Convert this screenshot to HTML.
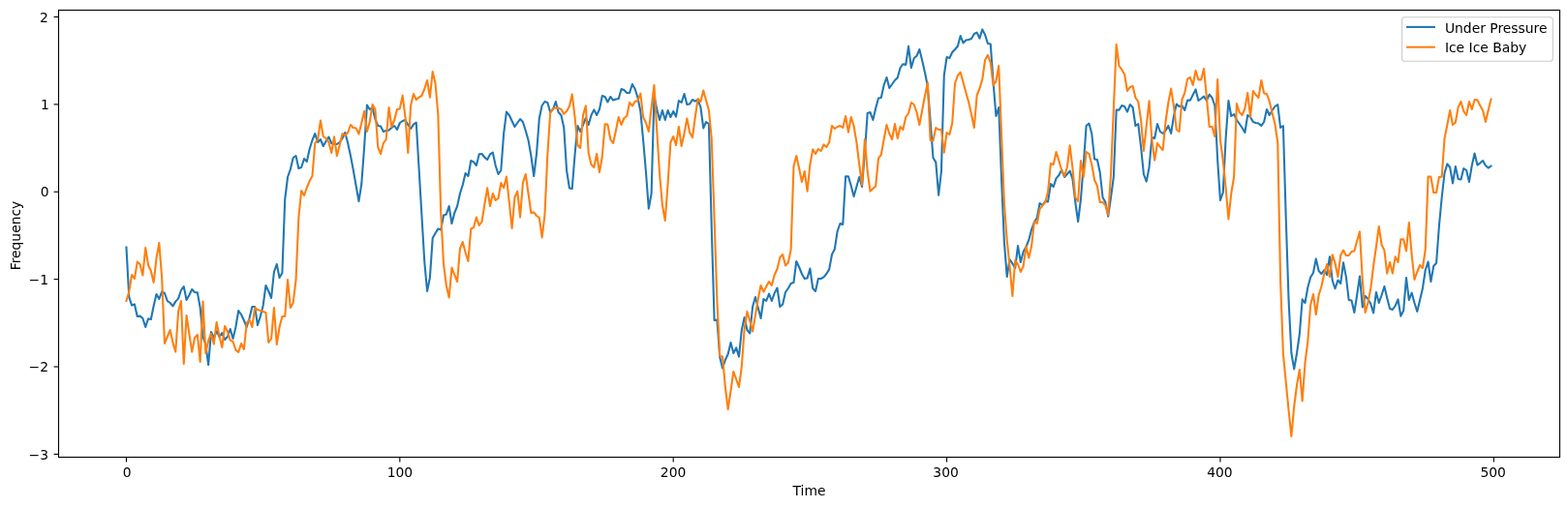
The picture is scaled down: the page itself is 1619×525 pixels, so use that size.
<!DOCTYPE html>
<html><head><meta charset="utf-8"><style>html,body{margin:0;padding:0;background:#fff;overflow:hidden;}svg{display:block;}</style></head>
<body><svg width="1619" height="525" viewBox="0 0 1619 525">
<rect width="1619" height="525" fill="#fff"/>
<defs><clipPath id="c"><rect x="60.5" y="10.5" width="1550" height="462"/></clipPath></defs>
<g clip-path="url(#c)" fill="none" stroke-width="2.08" stroke-linejoin="round" stroke-linecap="square">
<path d="M130.45,255.60 L133.27,307.00 L136.10,315.60 L138.92,314.40 L141.75,327.00 L144.57,326.60 L147.39,329.00 L150.22,338.00 L153.04,329.40 L155.86,330.00 L158.69,316.00 L161.51,304.00 L164.34,309.00 L167.16,301.40 L169.98,303.00 L172.81,311.00 L175.63,313.00 L178.45,316.40 L181.28,311.60 L184.10,308.60 L186.93,300.00 L189.75,296.00 L192.57,310.00 L195.40,305.00 L198.22,299.00 L201.04,302.00 L203.87,302.40 L206.69,318.00 L209.52,348.00 L212.34,356.00 L215.16,377.00 L217.99,343.00 L220.81,349.00 L223.64,342.00 L226.46,348.00 L229.28,344.00 L232.11,351.00 L234.93,348.00 L237.75,340.00 L240.58,350.00 L243.40,338.00 L246.23,321.00 L249.05,325.00 L251.87,331.00 L254.70,338.00 L257.52,329.00 L260.34,317.00 L263.17,317.00 L265.99,336.00 L268.82,327.00 L271.64,316.00 L274.46,295.00 L277.29,301.00 L280.11,308.00 L282.94,281.00 L285.76,273.00 L288.58,287.00 L291.41,282.00 L294.23,206.00 L297.05,183.00 L299.88,175.00 L302.70,163.00 L305.53,161.00 L308.35,174.00 L311.17,173.00 L314.00,164.00 L316.82,167.00 L319.64,154.00 L322.47,145.00 L325.29,138.00 L328.12,147.00 L330.94,144.00 L333.76,151.00 L336.59,146.00 L339.41,141.50 L342.24,148.00 L345.06,149.00 L347.88,149.00 L350.71,147.00 L353.53,143.00 L356.35,137.00 L359.18,148.00 L362.00,161.00 L364.83,176.00 L367.65,192.00 L370.47,208.00 L373.30,190.00 L376.12,152.00 L378.94,108.60 L381.77,113.00 L384.59,111.40 L387.42,123.00 L390.24,130.00 L393.06,130.60 L395.89,136.00 L398.71,135.00 L401.53,134.60 L404.36,132.00 L407.18,130.00 L410.01,134.00 L412.83,127.00 L415.65,125.00 L418.48,124.00 L421.30,129.00 L424.13,133.00 L426.95,128.60 L429.77,126.60 L432.60,174.50 L435.42,222.00 L438.24,270.00 L441.07,301.00 L443.89,287.00 L446.72,246.00 L449.54,241.00 L452.36,236.40 L455.19,237.60 L458.01,222.50 L460.83,221.50 L463.66,213.00 L466.48,231.00 L469.31,220.00 L472.13,213.00 L474.95,200.00 L477.78,191.00 L480.60,179.00 L483.42,182.00 L486.25,166.00 L489.07,167.40 L491.90,171.00 L494.72,159.40 L497.54,159.00 L500.37,162.60 L503.19,165.00 L506.02,159.40 L508.84,157.60 L511.66,171.00 L514.49,180.00 L517.31,176.00 L520.13,138.00 L522.96,115.60 L525.78,119.00 L528.61,125.00 L531.43,131.00 L534.25,127.00 L537.08,123.00 L539.90,126.00 L542.72,135.00 L545.55,145.00 L548.37,161.00 L551.20,182.00 L554.02,159.00 L556.84,122.00 L559.67,109.00 L562.49,105.00 L565.32,106.00 L568.14,116.00 L570.96,113.00 L573.79,105.00 L576.61,116.00 L579.43,119.00 L582.26,132.00 L585.08,176.00 L587.91,194.40 L590.73,195.00 L593.55,160.00 L596.38,130.00 L599.20,136.00 L602.02,129.00 L604.85,122.00 L607.67,129.00 L610.50,119.00 L613.32,113.40 L616.14,119.00 L618.97,113.00 L621.79,99.00 L624.62,100.00 L627.44,105.40 L630.26,100.00 L633.09,103.60 L635.91,102.60 L638.73,102.00 L641.56,92.00 L644.38,93.00 L647.21,96.00 L650.03,96.00 L652.85,87.00 L655.68,92.00 L658.50,101.00 L661.32,115.00 L664.15,145.00 L666.97,178.00 L669.80,215.60 L672.62,200.00 L675.44,99.00 L678.27,113.00 L681.09,124.00 L683.91,114.00 L686.74,124.00 L689.56,114.00 L692.39,121.00 L695.21,115.00 L698.03,120.60 L700.86,104.00 L703.68,106.00 L706.51,97.00 L709.33,108.00 L712.15,107.40 L714.98,103.00 L717.80,104.60 L720.62,103.00 L723.45,111.00 L726.27,132.40 L729.10,126.00 L731.92,128.00 L734.74,235.00 L737.57,331.00 L740.39,330.60 L743.21,369.00 L746.04,380.60 L748.86,372.00 L751.69,366.00 L754.51,354.00 L757.33,365.00 L760.16,359.40 L762.98,368.60 L765.81,341.00 L768.63,328.00 L771.45,341.00 L774.28,344.50 L777.10,317.00 L779.92,307.00 L782.75,318.00 L785.57,329.00 L788.40,309.00 L791.22,311.00 L794.04,303.60 L796.87,311.00 L799.69,303.00 L802.51,297.60 L805.34,317.00 L808.16,314.40 L810.99,302.00 L813.81,298.00 L816.63,293.00 L819.46,292.00 L822.28,270.00 L825.10,276.00 L827.93,283.00 L830.75,288.00 L833.58,287.40 L836.40,277.60 L839.22,298.00 L842.05,301.00 L844.87,288.00 L847.70,288.00 L850.52,286.40 L853.34,283.00 L856.17,278.40 L858.99,263.00 L861.81,257.60 L864.64,239.00 L867.46,231.00 L870.29,232.00 L873.11,182.40 L875.93,182.40 L878.76,192.00 L881.58,203.00 L884.40,193.00 L887.23,183.00 L890.05,193.00 L892.88,158.00 L895.70,117.00 L898.52,116.00 L901.35,124.00 L904.17,112.00 L906.99,101.60 L909.82,101.00 L912.64,88.00 L915.47,80.00 L918.29,91.00 L921.11,87.00 L923.94,83.00 L926.76,80.20 L929.59,70.00 L932.41,66.20 L935.23,67.00 L938.06,47.80 L940.88,70.00 L943.70,60.30 L946.53,57.80 L949.35,51.00 L952.18,62.50 L955.00,75.00 L957.82,89.00 L960.65,125.00 L963.47,163.00 L966.29,167.60 L969.12,201.60 L971.94,177.00 L974.77,78.00 L977.59,59.00 L980.41,60.00 L983.24,54.00 L986.06,51.00 L988.89,47.80 L991.71,37.00 L994.53,44.40 L997.36,41.60 L1000.18,41.00 L1003.00,40.00 L1005.83,35.00 L1008.65,33.60 L1011.48,39.60 L1014.30,30.40 L1017.12,36.00 L1019.95,45.00 L1022.77,45.60 L1025.59,85.00 L1028.42,120.00 L1031.24,111.00 L1034.07,185.00 L1036.89,250.00 L1039.71,286.00 L1042.54,268.00 L1045.36,272.40 L1048.18,277.00 L1051.01,254.00 L1053.83,271.00 L1056.66,260.00 L1059.48,255.00 L1062.30,248.00 L1065.13,237.00 L1067.95,229.50 L1070.78,225.00 L1073.60,210.00 L1076.42,212.00 L1079.25,208.00 L1082.07,208.40 L1084.89,190.00 L1087.72,193.00 L1090.54,184.40 L1093.37,181.00 L1096.19,175.60 L1099.01,183.00 L1101.84,180.00 L1104.66,176.60 L1107.48,185.00 L1110.31,209.00 L1113.13,229.00 L1115.96,206.00 L1118.78,170.00 L1121.60,130.00 L1124.43,127.60 L1127.25,138.00 L1130.08,164.40 L1132.90,165.00 L1135.72,178.00 L1138.55,204.00 L1141.37,209.00 L1144.19,223.60 L1147.02,204.00 L1149.84,183.00 L1152.67,113.50 L1155.49,113.60 L1158.31,109.00 L1161.14,110.00 L1163.96,115.60 L1166.78,108.00 L1169.61,111.00 L1172.43,130.00 L1175.26,128.00 L1178.08,152.00 L1180.90,180.00 L1183.73,187.60 L1186.55,173.00 L1189.38,142.00 L1192.20,143.00 L1195.02,128.00 L1197.85,136.00 L1200.67,138.00 L1203.49,135.00 L1206.32,130.00 L1209.14,138.00 L1211.97,120.00 L1214.79,107.60 L1217.61,110.00 L1220.44,109.00 L1223.26,114.00 L1226.08,103.60 L1228.91,103.60 L1231.73,98.00 L1234.56,92.40 L1237.38,104.00 L1240.20,102.00 L1243.03,99.60 L1245.85,104.00 L1248.67,97.60 L1251.50,101.00 L1254.32,109.00 L1257.15,165.00 L1259.97,207.00 L1262.79,199.00 L1265.62,143.00 L1268.44,104.00 L1271.27,120.00 L1274.09,118.00 L1276.91,124.00 L1279.74,128.00 L1282.56,132.00 L1285.38,137.00 L1288.21,119.00 L1291.03,121.00 L1293.86,126.00 L1296.68,127.00 L1299.50,127.60 L1302.33,130.00 L1305.15,126.00 L1307.97,113.00 L1310.80,119.00 L1313.62,114.00 L1316.45,110.00 L1319.27,108.00 L1322.09,132.00 L1324.92,130.00 L1327.74,225.00 L1330.57,310.00 L1333.39,365.00 L1336.21,381.40 L1339.04,365.00 L1341.86,345.00 L1344.68,309.40 L1347.51,313.00 L1350.33,297.00 L1353.16,286.50 L1355.98,282.00 L1358.80,267.40 L1361.63,280.00 L1364.45,283.00 L1367.27,279.00 L1370.10,284.00 L1372.92,265.40 L1375.75,290.00 L1378.57,298.30 L1381.39,289.50 L1384.22,293.00 L1387.04,271.40 L1389.86,286.00 L1392.69,310.00 L1395.51,310.60 L1398.34,323.00 L1401.16,305.00 L1403.98,285.50 L1406.81,317.40 L1409.63,306.00 L1412.46,309.00 L1415.28,314.00 L1418.10,323.40 L1420.93,302.00 L1423.75,313.00 L1426.57,305.00 L1429.40,296.00 L1432.22,308.00 L1435.05,319.00 L1437.87,320.00 L1440.69,316.00 L1443.52,309.40 L1446.34,326.60 L1449.16,321.00 L1451.99,287.00 L1454.81,310.00 L1457.64,302.60 L1460.46,313.00 L1463.28,322.00 L1466.11,310.00 L1468.93,298.00 L1471.75,279.00 L1474.58,270.60 L1477.40,291.00 L1480.23,275.00 L1483.05,272.00 L1485.87,234.00 L1488.70,204.00 L1491.52,179.00 L1494.35,169.40 L1497.17,173.00 L1499.99,189.40 L1502.82,172.00 L1505.64,185.00 L1508.46,185.40 L1511.29,174.00 L1514.11,176.00 L1516.94,188.00 L1519.76,171.00 L1522.58,158.60 L1525.41,170.60 L1528.23,168.60 L1531.05,166.00 L1533.88,171.00 L1536.70,173.60 L1539.53,171.60" stroke="#1f77b4"/>
<path d="M130.45,311.00 L133.27,301.50 L136.10,284.00 L138.92,288.00 L141.75,270.60 L144.57,273.00 L147.39,284.60 L150.22,256.00 L153.04,274.00 L155.86,280.00 L158.69,292.00 L161.51,267.00 L164.34,251.00 L167.16,287.00 L169.98,355.00 L172.81,348.00 L175.63,341.00 L178.45,354.00 L181.28,363.60 L184.10,322.00 L186.93,311.00 L189.75,376.00 L192.57,326.00 L195.40,345.00 L198.22,363.60 L201.04,349.00 L203.87,346.00 L206.69,374.00 L209.52,311.60 L212.34,365.00 L215.16,352.00 L217.99,345.00 L220.81,355.60 L223.64,333.00 L226.46,347.00 L229.28,359.00 L232.11,337.00 L234.93,342.40 L237.75,351.60 L240.58,353.00 L243.40,361.60 L246.23,364.00 L249.05,355.00 L251.87,361.00 L254.70,334.00 L257.52,330.40 L260.34,338.00 L263.17,318.00 L265.99,320.00 L268.82,321.00 L271.64,322.00 L274.46,323.00 L277.29,354.00 L280.11,350.00 L282.94,318.00 L285.76,356.00 L288.58,338.00 L291.41,327.00 L294.23,327.00 L297.05,289.00 L299.88,318.00 L302.70,313.00 L305.53,289.50 L308.35,225.00 L311.17,197.00 L314.00,202.00 L316.82,194.00 L319.64,187.00 L322.47,182.00 L325.29,148.00 L328.12,144.00 L330.94,124.60 L333.76,141.00 L336.59,143.00 L339.41,147.00 L342.24,158.00 L345.06,141.40 L347.88,161.00 L350.71,150.00 L353.53,138.00 L356.35,140.00 L359.18,137.00 L362.00,129.00 L364.83,132.00 L367.65,132.60 L370.47,138.60 L373.30,127.00 L376.12,115.00 L378.94,136.00 L381.77,126.00 L384.59,108.00 L387.42,113.00 L390.24,152.00 L393.06,159.00 L395.89,148.00 L398.71,144.00 L401.53,111.00 L404.36,131.00 L407.18,124.00 L410.01,113.00 L412.83,112.40 L415.65,98.60 L418.48,121.00 L421.30,158.00 L424.13,109.00 L426.95,97.00 L429.77,103.00 L432.60,100.60 L435.42,99.00 L438.24,92.00 L441.07,83.00 L443.89,100.60 L446.72,74.00 L449.54,86.00 L452.36,119.00 L455.19,219.00 L458.01,273.00 L460.83,295.00 L463.66,307.40 L466.48,276.60 L469.31,284.00 L472.13,291.00 L474.95,257.00 L477.78,250.00 L480.60,261.00 L483.42,270.00 L486.25,236.60 L489.07,235.00 L491.90,224.60 L494.72,233.00 L497.54,229.00 L500.37,211.00 L503.19,194.40 L506.02,213.00 L508.84,200.00 L511.66,207.00 L514.49,205.00 L517.31,189.00 L520.13,194.00 L522.96,182.60 L525.78,209.00 L528.61,236.00 L531.43,204.00 L534.25,197.60 L537.08,224.40 L539.90,189.00 L542.72,180.00 L545.55,200.00 L548.37,220.00 L551.20,219.40 L554.02,223.00 L556.84,225.00 L559.67,245.40 L562.49,222.00 L565.32,160.00 L568.14,117.00 L570.96,112.00 L573.79,111.40 L576.61,111.60 L579.43,113.00 L582.26,117.60 L585.08,115.00 L587.91,110.00 L590.73,97.40 L593.55,121.00 L596.38,150.00 L599.20,153.00 L602.02,119.00 L604.85,109.40 L607.67,158.00 L610.50,170.00 L613.32,173.00 L616.14,159.00 L618.97,178.00 L621.79,162.00 L624.62,128.40 L627.44,128.60 L630.26,144.00 L633.09,148.00 L635.91,135.00 L638.73,121.00 L641.56,129.00 L644.38,122.00 L647.21,120.00 L650.03,106.00 L652.85,109.40 L655.68,105.00 L658.50,104.00 L661.32,96.60 L664.15,121.00 L666.97,127.00 L669.80,136.00 L672.62,111.00 L675.44,88.00 L678.27,135.00 L681.09,180.00 L683.91,212.00 L686.74,228.00 L689.56,190.00 L692.39,147.00 L695.21,141.00 L698.03,150.00 L700.86,131.00 L703.68,151.00 L706.51,138.00 L709.33,122.40 L712.15,137.00 L714.98,142.00 L717.80,121.00 L720.62,102.00 L723.45,105.00 L726.27,93.60 L729.10,104.00 L731.92,114.00 L734.74,143.00 L737.57,225.00 L740.39,310.00 L743.21,368.00 L746.04,368.60 L748.86,400.00 L751.69,423.00 L754.51,404.00 L757.33,384.00 L760.16,392.00 L762.98,400.00 L765.81,379.00 L768.63,340.00 L771.45,322.00 L774.28,331.50 L777.10,342.50 L779.92,326.00 L782.75,309.00 L785.57,295.00 L788.40,301.60 L791.22,296.00 L794.04,291.00 L796.87,295.00 L799.69,284.00 L802.51,278.00 L805.34,266.00 L808.16,263.00 L810.99,274.40 L813.81,271.60 L816.63,258.00 L819.46,172.00 L822.28,161.00 L825.10,174.00 L827.93,188.00 L830.75,177.00 L833.58,197.60 L836.40,170.00 L839.22,154.40 L842.05,159.00 L844.87,154.00 L847.70,156.00 L850.52,149.40 L853.34,152.00 L856.17,147.00 L858.99,130.00 L861.81,133.00 L864.64,131.00 L867.46,130.00 L870.29,132.00 L873.11,120.00 L875.93,136.60 L878.76,121.00 L881.58,130.00 L884.40,147.00 L887.23,170.00 L890.05,191.00 L892.88,144.00 L895.70,177.00 L898.52,197.60 L901.35,195.00 L904.17,192.40 L906.99,163.60 L909.82,160.00 L912.64,144.00 L915.47,129.00 L918.29,138.00 L921.11,144.00 L923.94,128.00 L926.76,143.00 L929.59,131.00 L932.41,134.00 L935.23,121.00 L938.06,117.00 L940.88,106.00 L943.70,108.00 L946.53,116.00 L949.35,129.00 L952.18,114.00 L955.00,99.00 L957.82,85.60 L960.65,145.00 L963.47,145.50 L966.29,132.00 L969.12,134.00 L971.94,134.00 L974.77,157.60 L977.59,137.00 L980.41,139.00 L983.24,127.00 L986.06,86.00 L988.89,78.00 L991.71,74.70 L994.53,85.00 L997.36,95.50 L1000.18,105.50 L1003.00,118.00 L1005.83,132.00 L1008.65,98.50 L1011.48,91.50 L1014.30,82.00 L1017.12,62.00 L1019.95,56.80 L1022.77,65.00 L1025.59,88.50 L1028.42,84.00 L1031.24,68.00 L1034.07,140.00 L1036.89,210.00 L1039.71,248.00 L1042.54,275.00 L1045.36,306.00 L1048.18,269.00 L1051.01,273.00 L1053.83,281.00 L1056.66,275.00 L1059.48,254.40 L1062.30,266.40 L1065.13,254.00 L1067.95,229.00 L1070.78,231.00 L1073.60,216.00 L1076.42,212.40 L1079.25,209.00 L1082.07,198.00 L1084.89,169.00 L1087.72,170.00 L1090.54,157.00 L1093.37,166.00 L1096.19,176.00 L1099.01,182.00 L1101.84,173.00 L1104.66,150.40 L1107.48,174.00 L1110.31,204.00 L1113.13,208.00 L1115.96,166.00 L1118.78,183.00 L1121.60,157.00 L1124.43,159.00 L1127.25,170.00 L1130.08,186.00 L1132.90,192.00 L1135.72,209.00 L1138.55,209.00 L1141.37,212.00 L1144.19,222.00 L1147.02,180.00 L1149.84,113.00 L1152.67,46.00 L1155.49,68.00 L1158.31,72.00 L1161.14,77.00 L1163.96,94.00 L1166.78,90.00 L1169.61,89.00 L1172.43,101.00 L1175.26,105.00 L1178.08,124.00 L1180.90,156.00 L1183.73,130.00 L1186.55,104.40 L1189.38,145.00 L1192.20,165.60 L1195.02,148.00 L1197.85,152.00 L1200.67,155.00 L1203.49,126.00 L1206.32,106.00 L1209.14,91.60 L1211.97,110.00 L1214.79,134.00 L1217.61,136.00 L1220.44,103.00 L1223.26,96.00 L1226.08,81.60 L1228.91,80.00 L1231.73,88.00 L1234.56,73.00 L1237.38,82.40 L1240.20,82.40 L1243.03,71.00 L1245.85,100.00 L1248.67,131.00 L1251.50,131.00 L1254.32,141.00 L1257.15,82.00 L1259.97,145.00 L1262.79,166.00 L1265.62,194.00 L1268.44,226.40 L1271.27,200.00 L1274.09,183.00 L1276.91,107.00 L1279.74,116.00 L1282.56,119.00 L1285.38,112.00 L1288.21,96.00 L1291.03,121.00 L1293.86,94.00 L1296.68,98.00 L1299.50,101.00 L1302.33,83.00 L1305.15,96.40 L1307.97,97.00 L1310.80,105.00 L1313.62,117.00 L1316.45,128.00 L1319.27,147.00 L1322.09,290.00 L1324.92,366.00 L1327.74,395.00 L1330.57,424.00 L1333.39,451.00 L1336.21,420.00 L1339.04,398.00 L1341.86,382.00 L1344.68,414.40 L1347.51,375.00 L1350.33,353.00 L1353.16,315.00 L1355.98,304.00 L1358.80,325.00 L1361.63,305.00 L1364.45,296.00 L1367.27,283.00 L1370.10,273.00 L1372.92,286.00 L1375.75,263.40 L1378.57,272.00 L1381.39,286.00 L1384.22,264.00 L1387.04,258.60 L1389.86,264.00 L1392.69,264.00 L1395.51,260.00 L1398.34,259.40 L1401.16,249.00 L1403.98,239.40 L1406.81,290.00 L1409.63,323.00 L1412.46,313.00 L1415.28,298.00 L1418.10,275.00 L1420.93,255.00 L1423.75,234.00 L1426.57,253.00 L1429.40,258.60 L1432.22,282.60 L1435.05,271.00 L1437.87,282.60 L1440.69,265.40 L1443.52,271.00 L1446.34,247.40 L1449.16,247.40 L1451.99,259.40 L1454.81,230.00 L1457.64,263.00 L1460.46,289.00 L1463.28,281.00 L1466.11,274.00 L1468.93,277.00 L1471.75,258.00 L1474.58,182.60 L1477.40,182.60 L1480.23,199.00 L1483.05,199.00 L1485.87,183.00 L1488.70,182.60 L1491.52,143.00 L1494.35,129.00 L1497.17,114.00 L1499.99,129.00 L1502.82,126.60 L1505.64,110.60 L1508.46,105.00 L1511.29,115.00 L1514.11,119.00 L1516.94,105.00 L1519.76,113.00 L1522.58,103.00 L1525.41,103.40 L1528.23,109.00 L1531.05,114.00 L1533.88,126.00 L1536.70,114.00 L1539.53,102.60" stroke="#ff7f0e"/>
</g>
<rect x="60.5" y="10.5" width="1550" height="462" fill="none" stroke="#000" stroke-width="1.11" stroke-linejoin="miter"/>
<line x1="130.45" y1="472.5" x2="130.45" y2="477.4" stroke="#000" stroke-width="1.11"/>
<text x="131.27" y="492.7" text-anchor="middle" style="font-family:'DejaVu Sans','Liberation Sans',sans-serif;font-size:13.89px;fill:#000">0</text>
<line x1="412.83" y1="472.5" x2="412.83" y2="477.4" stroke="#000" stroke-width="1.11"/>
<text x="412.90" y="492.7" text-anchor="middle" style="font-family:'DejaVu Sans','Liberation Sans',sans-serif;font-size:13.89px;fill:#000">100</text>
<line x1="695.21" y1="472.5" x2="695.21" y2="477.4" stroke="#000" stroke-width="1.11"/>
<text x="695.06" y="492.7" text-anchor="middle" style="font-family:'DejaVu Sans','Liberation Sans',sans-serif;font-size:13.89px;fill:#000">200</text>
<line x1="977.59" y1="472.5" x2="977.59" y2="477.4" stroke="#000" stroke-width="1.11"/>
<text x="976.58" y="492.7" text-anchor="middle" style="font-family:'DejaVu Sans','Liberation Sans',sans-serif;font-size:13.89px;fill:#000">300</text>
<line x1="1259.97" y1="472.5" x2="1259.97" y2="477.4" stroke="#000" stroke-width="1.11"/>
<text x="1259.40" y="492.7" text-anchor="middle" style="font-family:'DejaVu Sans','Liberation Sans',sans-serif;font-size:13.89px;fill:#000">400</text>
<line x1="1542.35" y1="472.5" x2="1542.35" y2="477.4" stroke="#000" stroke-width="1.11"/>
<text x="1541.70" y="492.7" text-anchor="middle" style="font-family:'DejaVu Sans','Liberation Sans',sans-serif;font-size:13.89px;fill:#000">500</text>
<line x1="55.6" y1="17.50" x2="60.5" y2="17.50" stroke="#000" stroke-width="1.11"/>
<text x="49.80" y="22.80" text-anchor="end" style="font-family:'DejaVu Sans','Liberation Sans',sans-serif;font-size:13.89px;fill:#000">2</text>
<line x1="55.6" y1="107.88" x2="60.5" y2="107.88" stroke="#000" stroke-width="1.11"/>
<text x="50.80" y="113.18" text-anchor="end" style="font-family:'DejaVu Sans','Liberation Sans',sans-serif;font-size:13.89px;fill:#000">1</text>
<line x1="55.6" y1="198.26" x2="60.5" y2="198.26" stroke="#000" stroke-width="1.11"/>
<text x="50.70" y="202.66" text-anchor="end" style="font-family:'DejaVu Sans','Liberation Sans',sans-serif;font-size:13.89px;fill:#000">0</text>
<line x1="55.6" y1="288.64" x2="60.5" y2="288.64" stroke="#000" stroke-width="1.11"/>
<text x="50.00" y="293.94" text-anchor="end" style="font-family:'DejaVu Sans','Liberation Sans',sans-serif;font-size:13.89px;fill:#000">−1</text>
<line x1="55.6" y1="379.02" x2="60.5" y2="379.02" stroke="#000" stroke-width="1.11"/>
<text x="50.00" y="384.32" text-anchor="end" style="font-family:'DejaVu Sans','Liberation Sans',sans-serif;font-size:13.89px;fill:#000">−2</text>
<line x1="55.6" y1="469.40" x2="60.5" y2="469.40" stroke="#000" stroke-width="1.11"/>
<text x="50.00" y="474.70" text-anchor="end" style="font-family:'DejaVu Sans','Liberation Sans',sans-serif;font-size:13.89px;fill:#000">−3</text>
<text x="835.5" y="511.9" text-anchor="middle" style="font-family:'DejaVu Sans','Liberation Sans',sans-serif;font-size:13.89px;fill:#000">Time</text>
<text transform="translate(21.3,243.5) rotate(-90)" text-anchor="middle" style="font-family:'DejaVu Sans','Liberation Sans',sans-serif;font-size:13.89px;fill:#000">Frequency</text>
<rect x="1447.6" y="17.7" width="155.7" height="45.6" rx="2.8" ry="2.8" fill="#fff" fill-opacity="0.8" stroke="#cccccc" stroke-width="1.11"/>
<line x1="1453.1" y1="27.9" x2="1480.9" y2="27.9" stroke="#1f77b4" stroke-width="2.08" stroke-linecap="square"/>
<line x1="1453.1" y1="48.7" x2="1480.9" y2="48.7" stroke="#ff7f0e" stroke-width="2.08" stroke-linecap="square"/>
<text x="1491.9" y="33.7" style="font-family:'DejaVu Sans','Liberation Sans',sans-serif;font-size:13.89px;fill:#000">Under Pressure</text>
<text x="1491.9" y="53.9" style="font-family:'DejaVu Sans','Liberation Sans',sans-serif;font-size:13.89px;fill:#000">Ice Ice Baby</text>
</svg></body></html>
